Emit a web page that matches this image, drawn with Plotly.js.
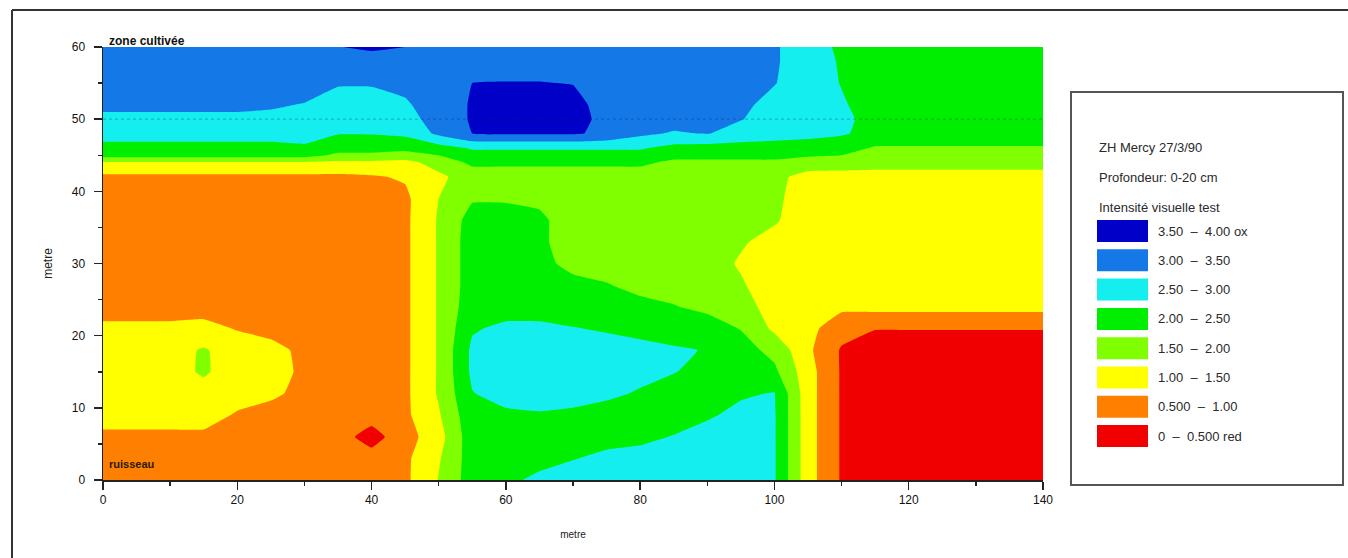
<!DOCTYPE html>
<html>
<head>
<meta charset="utf-8">
<script src="https://cdn.plot.ly/plotly-3.0.1.min.js"></script>
<style>
html,body{margin:0;padding:0;background:#ffffff;}
#chart{width:1348px;height:558px;}
</style>
</head>
<body>
<div id="chart"></div>
<script>
// ---- data (metres along transect, metres across, visual intensity test) ----
const xMetres = [0,5,10,15,20,25,30,35,40,45,50,55,60,65,70,75,80,85,90,95,100,105,110,115,120,125,130,135,140];
const yMetres = [0,3,6,9,12,15,18,21,24,27,30,33,36,39,42,44,45,46,48,50,52,55,58,60];

const z_y0  = [.75,.75,.75,.75,.75,.75,.75,.75,.75,.9,1.52,2.25,2.4,2.6,2.7,2.75,2.75,2.75,2.75,2.75,2.55,1.2,.45,.25,.25,.25,.25,.25,.25];
const z_y3  = [.75,.75,.75,.75,.75,.75,.75,.75,.7,.9,1.45,2.25,2.3,2.35,2.48,2.6,2.65,2.7,2.75,2.75,2.55,1.2,.45,.25,.25,.25,.25,.25,.25];
const z_y6  = [.9,.9,.9,.9,.8,.75,.75,.7,.3,.8,1.3,2.3,2.25,2.25,2.3,2.35,2.4,2.52,2.65,2.7,2.55,1.2,.45,.25,.25,.25,.25,.25,.25];
const z_y9  = [1.2,1.2,1.2,1.2,.95,.8,.75,.75,.7,.9,1.45,2.35,2.4,2.45,2.4,2.3,2.25,2.3,2.45,2.6,2.55,1.2,.45,.25,.25,.25,.25,.25,.25];
const z_y12 = [1.25,1.25,1.25,1.35,1.2,1.1,.85,.75,.75,.9,1.55,2.48,2.7,2.75,2.7,2.6,2.45,2.3,2.3,2.45,2.52,1.2,.45,.25,.25,.25,.25,.25,.25];
const z_y15 = [1.3,1.3,1.35,1.55,1.3,1.25,.88,.75,.75,.9,1.55,2.6,2.8,2.8,2.8,2.75,2.65,2.52,2.35,2.3,2.1,1.2,.45,.25,.25,.25,.25,.25,.25];
const z_y18 = [1.25,1.25,1.3,1.55,1.25,1.2,.85,.75,.75,.9,1.55,2.6,2.8,2.8,2.75,2.7,2.6,2.55,2.48,2.2,1.85,1.1,.45,.25,.25,.25,.25,.25,.25];
const z_y21 = [1.1,1.1,1.1,1.15,.97,.8,.75,.75,.75,.9,1.55,2.45,2.6,2.6,2.52,2.45,2.4,2.3,2.2,1.98,1.4,1.15,.7,.52,.52,.52,.52,.52,.52];
const z_y24 = [.8,.8,.8,.8,.75,.75,.75,.75,.75,.9,1.55,2.3,2.3,2.3,2.25,2.2,2.1,2.02,1.9,1.7,1.3,1.25,1.1,1.15,1.15,1.15,1.15,1.15,1.15];
const z_y27 = [.75,.75,.75,.75,.75,.75,.75,.75,.75,.9,1.55,2.25,2.25,2.2,2.1,2.02,1.9,1.85,1.75,1.55,1.25,1.25,1.25,1.25,1.25,1.25,1.25,1.25,1.25];
const z_y30 = [.75,.75,.75,.75,.75,.75,.75,.75,.75,.9,1.55,2.25,2.2,2.1,1.9,1.85,1.75,1.75,1.7,1.45,1.25,1.25,1.25,1.25,1.25,1.25,1.25,1.25,1.25];
const z_y33 = [.75,.75,.75,.75,.75,.75,.75,.75,.75,.9,1.55,2.25,2.2,2.1,1.75,1.75,1.75,1.75,1.75,1.55,1.35,1.25,1.25,1.25,1.25,1.25,1.25,1.25,1.25];
const z_y36 = [.75,.75,.75,.75,.75,.75,.75,.75,.75,.9,1.55,2.2,2.2,2.1,1.75,1.75,1.75,1.75,1.75,1.65,1.55,1.25,1.25,1.25,1.25,1.25,1.25,1.25,1.25];
const z_y39 = [.75,.75,.75,.75,.75,.75,.75,.75,.75,.9,1.5,1.95,1.95,1.9,1.75,1.75,1.75,1.75,1.75,1.7,1.6,1.25,1.25,1.25,1.25,1.25,1.25,1.25,1.25];
const z_y42 = [.9,.9,.9,.9,.9,.9,.9,.9,.95,1.05,1.4,1.75,1.75,1.75,1.75,1.75,1.75,1.75,1.8,1.7,1.65,1.3,1.3,1.3,1.3,1.3,1.3,1.3,1.3];
const z_y44 = [1.45,1.45,1.45,1.45,1.45,1.45,1.45,1.4,1.4,1.35,1.7,2.1,2.1,2.1,2.1,2.1,2.1,1.9,1.9,1.9,1.9,1.8,1.75,1.7,1.7,1.7,1.7,1.7,1.7];
const z_y45 = [2.2,2.2,2.2,2.2,2.2,2.2,2.2,1.9,1.9,1.8,2.0,2.35,2.35,2.35,2.35,2.35,2.35,2.15,2.15,2.15,2.15,2.05,2.0,1.8,1.8,1.8,1.8,1.8,1.8];
const z_y46 = [2.35,2.35,2.35,2.35,2.35,2.35,2.4,2.2,2.2,2.15,2.3,2.55,2.55,2.55,2.55,2.55,2.55,2.35,2.3,2.3,2.3,2.25,2.2,1.95,1.95,1.95,1.95,1.95,1.95];
const z_y48 = [2.7,2.7,2.7,2.7,2.7,2.7,2.75,2.52,2.52,2.6,3.1,3.5,3.55,3.55,3.55,3.4,3.1,2.95,3.02,2.8,2.7,2.65,2.55,2.35,2.3,2.3,2.3,2.3,2.3];
const z_y50 = [2.9,2.9,2.9,2.9,2.9,2.9,2.9,2.8,2.8,2.82,3.2,3.55,3.8,3.8,3.75,3.3,3.25,3.2,3.2,3.02,2.8,2.7,2.6,2.35,2.25,2.25,2.25,2.25,2.25];
const z_y52 = [3.1,3.1,3.1,3.1,3.1,3.05,2.98,2.9,2.9,2.95,3.2,3.55,3.8,3.8,3.7,3.25,3.25,3.25,3.25,3.1,2.85,2.75,2.55,2.3,2.25,2.25,2.25,2.25,2.25];
const z_y55 = [3.25,3.25,3.25,3.25,3.25,3.25,3.2,3.02,3.02,3.1,3.25,3.5,3.52,3.52,3.48,3.25,3.25,3.25,3.25,3.2,3.02,2.75,2.48,2.25,2.25,2.25,2.25,2.25,2.25];
const z_y58 = [3.25,3.25,3.25,3.25,3.25,3.25,3.25,3.25,3.25,3.25,3.25,3.25,3.25,3.25,3.25,3.25,3.25,3.25,3.25,3.25,3.05,2.75,2.45,2.25,2.25,2.25,2.25,2.25,2.25];
const z_y60 = [3.25,3.25,3.25,3.25,3.25,3.25,3.25,3.48,3.6,3.5,3.3,3.25,3.25,3.25,3.25,3.25,3.25,3.25,3.25,3.25,3.05,2.75,2.4,2.25,2.25,2.25,2.25,2.25,2.25];

const zGrid = [z_y0,z_y3,z_y6,z_y9,z_y12,z_y15,z_y18,z_y21,z_y24,z_y27,z_y30,z_y33,z_y36,z_y39,
               z_y42,z_y44,z_y45,z_y46,z_y48,z_y50,z_y52,z_y55,z_y58,z_y60];

// class colours from lowest (0-0.5, red) to highest (3.5-4, dark blue)
const classColors = ['#f00000','#ff8000','#ffff00','#80ff00','#00ee00','#14eeee','#1478e6','#0000c8'];
const classLabels = ['0  \u2013  0.500 red','0.500  \u2013  1.00','1.00  \u2013  1.50','1.50  \u2013  2.00',
                     '2.00  \u2013  2.50','2.50  \u2013  3.00','3.00  \u2013  3.50','3.50  \u2013  4.00 ox'];
const legendTitleLines = ['ZH Mercy 27/3/90','Profondeur: 0-20 cm','Intensit\u00e9 visuelle test'];
const xTickVals = [0,20,40,60,80,100,120,140];
const yTickVals = [0,10,20,30,40,50,60];
const xMinorVals = [10,30,50,70,90,110,130];
const yMinorVals = [5,15,25,35,45,55];
const refLineY = [50,50];
const refLineX = [xMetres[0], xMetres[xMetres.length-1]];
const axisTitle = 'metre';
const topNote = 'zone cultiv\u00e9e';
const bottomNote = 'ruisseau';

// ---- layout helpers (pixel -> paper) ----
const PL = 103, PR = 1043, PT = 47, PB = 480;
const px = p => (p - PL) / (PR - PL);
const py = p => (PB - p) / (PB - PT);

const nC = classColors.length;
const colorscale = classColors.map((c, i) => [i / (nC - 1), c]);

const traces = [
  {
    type: 'contour',
    x: xMetres, y: yMetres, z: zGrid,
    autocontour: false,
    contours: {start: 0.5, end: 3.5, size: 0.5, coloring: 'fill', showlines: false},
    colorscale: colorscale,
    showscale: false,
    line: {width: 0, smoothing: 0.3},
    hoverinfo: 'skip'
  },
  {
    type: 'scatter', mode: 'lines',
    x: refLineX, y: refLineY,
    line: {color: 'rgba(20,40,90,0.35)', width: 1, dash: 'dot'},
    hoverinfo: 'skip', showlegend: false
  }
];

const shapes = [];
const annotations = [];

// outer frame
shapes.push({type:'line', xref:'paper', yref:'paper', x0:px(12), x1:px(12), y0:py(10), y1:py(560), line:{color:'#333', width:2}});
shapes.push({type:'line', xref:'paper', yref:'paper', x0:px(12), x1:px(1350), y0:py(10), y1:py(10), line:{color:'#333', width:2}});

// legend box
shapes.push({type:'rect', xref:'paper', yref:'paper', x0:px(1071), x1:px(1343), y0:py(485), y1:py(92),
             line:{color:'#555', width:2}, fillcolor:'#ffffff'});

const legendFont = {family:'Liberation Sans, Arial', size:13, color:'#2a2a2a'};
legendTitleLines.forEach((t, i) => {
  annotations.push({xref:'paper', yref:'paper', x:px(1097), y:py(147 + i*30), text:t, showarrow:false,
                    xanchor:'left', yanchor:'middle', font:legendFont});
});
for (let k = 0; k < nC; k++) {
  const idx = nC - 1 - k; // top = highest class
  const cy = 231 + k * 29.3;
  shapes.push({type:'rect', xref:'paper', yref:'paper', x0:px(1097), x1:px(1148), y0:py(cy+11), y1:py(cy-11),
               line:{width:0}, fillcolor:classColors[idx]});
  annotations.push({xref:'paper', yref:'paper', x:px(1156), y:py(cy), text:classLabels[idx], showarrow:false,
                    xanchor:'left', yanchor:'middle', font:legendFont});
}

// notes in plot
annotations.push({xref:'paper', yref:'paper', x:px(107), y:py(41), text:'<b>' + topNote + '</b>', showarrow:false,
                  xanchor:'left', yanchor:'middle', font:{family:'Liberation Sans, Arial', size:12, color:'#111'}});
annotations.push({xref:'paper', yref:'paper', x:px(107), y:py(464), text:'<b>' + bottomNote + '</b>', showarrow:false,
                  xanchor:'left', yanchor:'middle', font:{family:'Liberation Sans, Arial', size:11, color:'#2a1a00'}});

const tickFont = {family:'Liberation Sans, Arial', size:12, color:'#111'};

const layout = {
  width: 1348, height: 558,
  margin: {l: PL, r: 1348 - PR, t: PT, b: 558 - PB, pad: 0},
  paper_bgcolor: '#ffffff', plot_bgcolor: '#ffffff',
  showlegend: false,
  xaxis: {
    range: [0, 140], tickvals: xTickVals, ticktext: xTickVals.map(String),
    ticks: 'outside', ticklen: 8, tickwidth: 1.5, tickcolor: '#222',
    minor: {tickvals: xMinorVals, ticks: 'outside', ticklen: 4, tickwidth: 1.5, tickcolor: '#222'},
    showline: true, linecolor: '#222', linewidth: 1.5,
    showgrid: false, zeroline: false, tickfont: tickFont,
    title: {text: axisTitle, font: {family:'Liberation Sans, Arial', size:10, color:'#222'}, standoff: 25}
  },
  yaxis: {
    range: [0, 60], tickvals: yTickVals, ticktext: yTickVals.map(String),
    ticks: 'outside', ticklen: 8, tickwidth: 1.5, tickcolor: '#222',
    minor: {tickvals: yMinorVals, ticks: 'outside', ticklen: 4, tickwidth: 1.5, tickcolor: '#222'},
    showline: true, linecolor: '#222', linewidth: 1.5,
    showgrid: false, zeroline: false, tickfont: tickFont, ticklabelstandoff: 6,
    title: {text: axisTitle, font: {family:'Liberation Sans, Arial', size:12, color:'#222'}, standoff: 16}
  },
  shapes: shapes,
  annotations: annotations
};

Plotly.newPlot('chart', traces, layout, {displayModeBar: false, staticPlot: true});
</script>
</body>
</html>
